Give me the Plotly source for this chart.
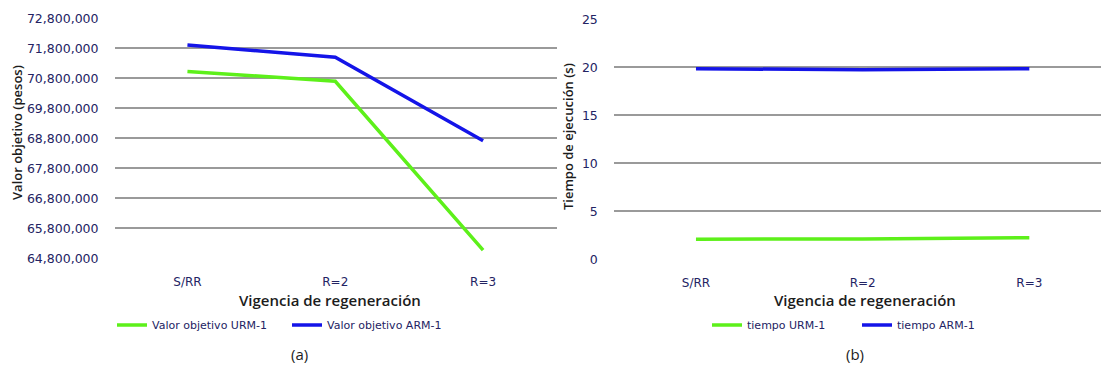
import plotly.graph_objects as go

# Categories on the x axis (shared by both panels)
categorias = ["S/RR", "R=2", "R=3"]

# Panel (a): objective value in pesos
valor_urm = [71030000, 70700000, 65070000]
valor_arm = [71910000, 71500000, 68720000]

# Panel (b): execution time in seconds
tiempo_urm = [2.10, 2.12, 2.25]
tiempo_arm = [19.85, 19.75, 19.85]

W, H = 1101, 371
VERDE = "#5DF01A"
AZUL = "#1414E8"
TXT_TICK = "#232363"
TXT = "#1c1c1c"


def px_x(p):
    return p / W


def px_y(p):
    return 1 - p / H


fig = go.Figure()

fig.add_trace(go.Scatter(x=categorias, y=valor_urm, mode="lines", name="Valor objetivo URM-1",
                         line=dict(color=VERDE, width=3.5), xaxis="x", yaxis="y", legend="legend"))
fig.add_trace(go.Scatter(x=categorias, y=valor_arm, mode="lines", name="Valor objetivo ARM-1",
                         line=dict(color=AZUL, width=3.5), xaxis="x", yaxis="y", legend="legend"))
fig.add_trace(go.Scatter(x=categorias, y=tiempo_urm, mode="lines", name="tiempo URM-1",
                         line=dict(color=VERDE, width=3.5), xaxis="x2", yaxis="y2", legend="legend2"))
fig.add_trace(go.Scatter(x=categorias, y=tiempo_arm, mode="lines", name="tiempo ARM-1",
                         line=dict(color=AZUL, width=3.5), xaxis="x2", yaxis="y2", legend="legend2"))

tick_font = dict(family="DejaVu Sans", size=12.5, color=TXT_TICK)
xtick_font = dict(family="DejaVu Sans", size=12, color=TXT_TICK)
grid = dict(showgrid=True, gridcolor="#9a9a9a", gridwidth=1.5, zeroline=False, showline=False)
common = dict(ticks="outside", tickcolor="rgba(0,0,0,0)", automargin=False)
legend_font = dict(family="DejaVu Sans", size=11, color=TXT_TICK)

fig.update_layout(
    template="none",
    width=W, height=H,
    margin=dict(l=0, r=0, t=0, b=0, autoexpand=False),
    paper_bgcolor="white", plot_bgcolor="white",
    xaxis=dict(domain=[px_x(115), px_x(557)], anchor="y", type="category",
               range=[-0.49, 2.5], showgrid=False, zeroline=False, showline=False,
               tickfont=xtick_font, ticklen=12, **common),
    yaxis=dict(domain=[px_y(258.3), px_y(18.3)], anchor="x", range=[64800000, 72800000],
               tick0=64800000, dtick=1000000, tickformat=",d", tickfont=tick_font,
               ticklen=13, **common, **grid),
    xaxis2=dict(domain=[px_x(614.3), 1.0], anchor="y2", type="category",
                range=[-0.49, 2.43], showgrid=False, zeroline=False, showline=False,
                tickfont=xtick_font, ticklen=12, **common),
    yaxis2=dict(domain=[px_y(259.3), px_y(19.3)], anchor="x2", range=[0, 25],
                dtick=5, tickfont=tick_font, ticklen=13, **common, **grid),
    legend=dict(orientation="h", x=px_x(112), y=px_y(325), xanchor="left", yanchor="middle",
                font=legend_font, itemwidth=30, entrywidth=130, entrywidthmode="pixels",
                bgcolor="rgba(0,0,0,0)", tracegroupgap=0),
    legend2=dict(orientation="h", x=px_x(707), y=px_y(325), xanchor="left", yanchor="middle",
                 font=legend_font, itemwidth=30, entrywidth=105, entrywidthmode="pixels",
                 bgcolor="rgba(0,0,0,0)", tracegroupgap=0),
    showlegend=True,
)

title_font = dict(family="Open Sans", size=15, color=TXT, weight=600)
ytitle_font = dict(family="Open Sans", size=13, color=TXT, weight=600)
caption_font = dict(family="Open Sans", size=15, color=TXT)

anotaciones = [
    dict(text="Vigencia de regeneración", x=px_x(330), y=px_y(300), font=title_font),
    dict(text="Vigencia de regeneración", x=px_x(865), y=px_y(300), font=title_font),
    dict(text="Valor objetivo (pesos)", x=px_x(17), y=px_y(133), font=ytitle_font, textangle=-90),
    dict(text="Tiempo de ejecución (s)", x=px_x(568), y=px_y(137), font=ytitle_font, textangle=-90),
    dict(text="(a)", x=px_x(299), y=px_y(354), font=caption_font),
    dict(text="(b)", x=px_x(855), y=px_y(354), font=caption_font),
]
for a in anotaciones:
    fig.add_annotation(xref="paper", yref="paper", showarrow=False,
                       xanchor="center", yanchor="middle", **a)

fig.write_html("out.html")
